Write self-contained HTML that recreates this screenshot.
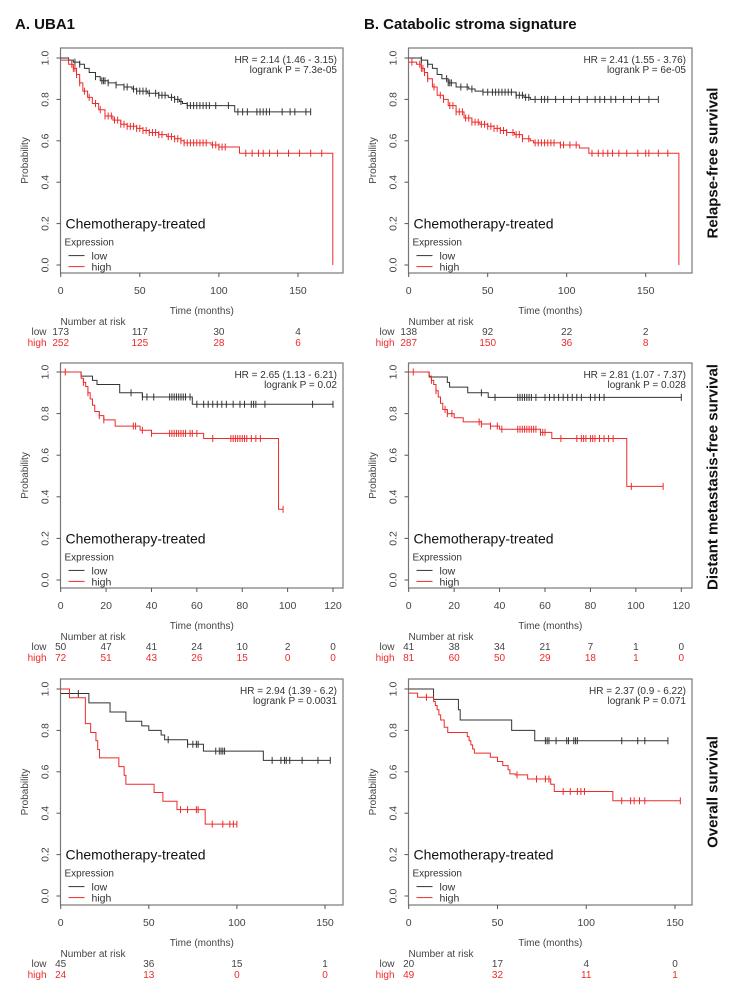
<!DOCTYPE html>
<html><head><meta charset="utf-8">
<style>
html,body{margin:0;padding:0;background:#fff;}
svg{display:block;font-family:"Liberation Sans",sans-serif;}
</style></head>
<body>
<svg id="fig" width="733" height="1003" viewBox="0 0 733 1003"></svg>
<script>
// ---------- data: A1 UBA1 relapse-free ----------
const a1Ticks = [0, 50, 100, 150];
const a1LowT = [0, 5, 8, 12, 15, 18, 22, 25, 30, 35, 40, 45, 48, 55, 62, 68, 72, 75, 77, 80, 110];
const a1LowS = [1.0, 0.99, 0.98, 0.97, 0.95, 0.93, 0.91, 0.89, 0.88, 0.87, 0.86, 0.85, 0.84, 0.83, 0.82, 0.81, 0.80, 0.79, 0.78, 0.77, 0.74];
const a1LowEnd = 158;
const a1LowCens = [9, 12, 22, 26, 27, 28, 30, 35, 40, 42, 46, 48, 50, 52, 54, 56, 60, 62, 64, 66, 70, 72, 74, 76, 80, 82, 84, 86, 88, 90, 92, 94, 98, 106, 112, 115, 118, 124, 126, 128, 130, 132, 140, 145, 148, 155, 158];
const a1HighT = [0, 5, 8, 10, 12, 14, 17, 20, 24, 28, 33, 38, 42, 48, 52, 56, 62, 67, 72, 76, 78, 95, 100, 113, 172];
const a1HighS = [0.99, 0.97, 0.95, 0.92, 0.88, 0.84, 0.81, 0.78, 0.75, 0.72, 0.70, 0.68, 0.67, 0.66, 0.65, 0.64, 0.63, 0.62, 0.61, 0.60, 0.59, 0.58, 0.57, 0.54, 0.0];
const a1HighEnd = 172;
const a1HighCens = [7, 8, 9, 10, 12, 15, 18, 22, 25, 28, 30, 32, 34, 36, 38, 40, 42, 44, 46, 48, 50, 52, 54, 56, 58, 60, 62, 64, 68, 70, 72, 74, 76, 78, 80, 82, 84, 86, 88, 90, 92, 96, 98, 100, 102, 104, 117, 121, 125, 128, 132, 137, 144, 151, 158, 165];
const a1RiskLow = [173, 117, 30, 4];
const a1RiskHigh = [252, 125, 28, 6];
// ---------- A2 UBA1 DMFS ----------
const a2Ticks = [0, 20, 40, 60, 80, 100, 120];
const a2LowT = [0, 9, 14, 16, 26, 36, 58];
const a2LowS = [1.0, 0.98, 0.96, 0.94, 0.90, 0.88, 0.845];
const a2LowEnd = 120;
const a2LowCens = [31, 36, 38, 41, 48, 49, 50, 51, 52, 53, 54, 55, 57, 60, 63, 65, 67, 69, 71, 73, 76, 79, 81, 84, 85, 86, 90, 111, 120];
const a2HighT = [0, 9, 10, 11, 12, 13, 14, 15, 17, 19, 24, 35, 40, 63, 96];
const a2HighS = [1.0, 0.97, 0.95, 0.93, 0.90, 0.87, 0.84, 0.81, 0.79, 0.77, 0.74, 0.72, 0.705, 0.68, 0.34];
const a2HighEnd = 98;
const a2HighCens = [2, 10, 12, 17, 19, 32, 33, 36, 40, 48, 49, 50, 51, 52, 53, 54, 55, 57, 58, 60, 67, 75, 76, 77, 78, 79, 80, 81, 82, 84, 86, 88, 98];
const a2RiskLow = [50, 47, 41, 24, 10, 2, 0];
const a2RiskHigh = [72, 51, 43, 26, 15, 0, 0];
// ---------- A3 UBA1 OS ----------
const a3Ticks = [0, 50, 100, 150];
const a3LowT = [0, 16, 28, 37, 46, 50, 57, 59, 72, 81, 115];
const a3LowS = [0.978, 0.933, 0.889, 0.844, 0.822, 0.80, 0.778, 0.755, 0.733, 0.70, 0.655];
const a3LowEnd = 153;
const a3LowCens = [10, 61, 72, 75, 77, 78, 88, 90, 91, 92, 93, 120, 125, 127, 128, 130, 137, 146, 153];
const a3HighT = [0, 5, 14, 17, 20, 21, 22, 33, 36, 37, 53, 58, 66, 82];
const a3HighS = [1.0, 0.958, 0.833, 0.79, 0.75, 0.708, 0.667, 0.625, 0.583, 0.54, 0.50, 0.458, 0.417, 0.347];
const a3HighEnd = 100;
const a3HighCens = [68, 72, 77, 78, 86, 92, 96, 98, 100];
const a3RiskLow = [45, 36, 15, 1];
const a3RiskHigh = [24, 13, 0, 0];
// ---------- B1 catabolic RFS ----------
const b1Ticks = [0, 50, 100, 150];
const b1LowT = [0, 8, 12, 15, 18, 21, 25, 30, 38, 42, 47, 68, 73, 77];
const b1LowS = [1.0, 0.99, 0.97, 0.95, 0.92, 0.90, 0.88, 0.86, 0.85, 0.84, 0.835, 0.82, 0.81, 0.80];
const b1LowEnd = 158;
const b1LowCens = [8, 12, 24, 25, 26, 27, 33, 37, 40, 47, 50, 53, 55, 57, 59, 61, 63, 65, 68, 70, 72, 74, 76, 80, 84, 86, 88, 93, 98, 103, 108, 113, 118, 121, 124, 128, 131, 136, 141, 146, 152, 158];
const b1HighT = [0, 5, 8, 10, 12, 15, 18, 22, 25, 30, 35, 40, 45, 50, 54, 58, 62, 67, 72, 77, 79, 96, 108, 114, 171];
const b1HighS = [0.98, 0.97, 0.95, 0.93, 0.90, 0.86, 0.82, 0.80, 0.77, 0.74, 0.71, 0.69, 0.68, 0.67, 0.66, 0.65, 0.64, 0.63, 0.61, 0.60, 0.59, 0.58, 0.565, 0.54, 0.0];
const b1HighEnd = 171;
const b1HighCens = [2, 7, 8, 9, 10, 12, 16, 20, 22, 26, 28, 30, 32, 34, 36, 38, 40, 42, 44, 46, 48, 50, 52, 54, 56, 58, 60, 62, 66, 68, 70, 72, 76, 80, 82, 84, 86, 88, 90, 92, 96, 98, 102, 106, 116, 120, 123, 126, 129, 133, 138, 145, 150, 152, 158, 164];
const b1RiskLow = [138, 92, 22, 2];
const b1RiskHigh = [287, 150, 36, 8];
// ---------- B2 catabolic DMFS ----------
const b2Ticks = [0, 20, 40, 60, 80, 100, 120];
const b2LowT = [0, 9, 17, 18, 26, 35];
const b2LowS = [1.0, 0.976, 0.95, 0.927, 0.90, 0.878];
const b2LowEnd = 120;
const b2LowCens = [32, 38, 48, 49, 50, 51, 52, 53, 54, 56, 60, 62, 64, 66, 68, 70, 72, 74, 76, 80, 82, 84, 86, 120];
const b2HighT = [0, 9, 10, 11, 12, 13, 14, 15, 17, 20, 24, 32, 36, 40, 58, 63, 96];
const b2HighS = [1.0, 0.98, 0.96, 0.94, 0.91, 0.88, 0.85, 0.82, 0.80, 0.78, 0.76, 0.75, 0.74, 0.725, 0.71, 0.68, 0.45];
const b2HighEnd = 112;
const b2HighCens = [2, 10, 12, 16, 17, 19, 31, 32, 36, 39, 41, 48, 49, 50, 51, 52, 53, 54, 55, 56, 58, 59, 60, 67, 74, 76, 77, 78, 80, 81, 82, 84, 86, 88, 90, 98, 112];
const b2RiskLow = [41, 38, 34, 21, 7, 1, 0];
const b2RiskHigh = [81, 60, 50, 29, 18, 1, 0];
// ---------- B3 catabolic OS ----------
const b3Ticks = [0, 50, 100, 150];
const b3LowT = [0, 14, 28, 29, 58, 71];
const b3LowS = [1.0, 0.95, 0.90, 0.85, 0.80, 0.75];
const b3LowEnd = 146;
const b3LowCens = [77, 78, 79, 83, 89, 90, 93, 94, 95, 120, 129, 133, 146];
const b3HighT = [0, 5, 14, 15, 16, 17, 18, 20, 22, 33, 34, 35, 36, 37, 46, 50, 53, 56, 57, 60, 67, 80, 82, 115];
const b3HighS = [0.98, 0.96, 0.94, 0.92, 0.90, 0.875, 0.85, 0.815, 0.79, 0.77, 0.75, 0.73, 0.71, 0.69, 0.67, 0.65, 0.63, 0.61, 0.59, 0.585, 0.565, 0.54, 0.505, 0.46];
const b3HighEnd = 153;
const b3HighCens = [10, 61, 72, 77, 79, 87, 91, 95, 97, 99, 120, 125, 127, 130, 133, 153];
const b3RiskLow = [20, 17, 4, 0];
const b3RiskHigh = [49, 32, 11, 1];

const hrText = [["HR = 2.14 (1.46 - 3.15)", "logrank P = 7.3e-05"], ["HR = 2.65 (1.13 - 6.21)", "logrank P = 0.02"], ["HR = 2.94 (1.39 - 6.2)", "logrank P = 0.0031"],
  ["HR = 2.41 (1.55 - 3.76)", "logrank P = 6e-05"], ["HR = 2.81 (1.07 - 7.37)", "logrank P = 0.028"], ["HR = 2.37 (0.9 - 6.22)", "logrank P = 0.071"]];

const NS = "http://www.w3.org/2000/svg";
const svg = document.getElementById("fig");
const BLACK = "#333", RED = "#ee2a2a";
function mk(tag, attrs, parent, text) {
  const e = document.createElementNS(NS, tag);
  for (const k in attrs) e.setAttribute(k, attrs[k]);
  if (text !== undefined) e.textContent = text;
  (parent || svg).appendChild(e);
  return e;
}
function stepAt(T, S, t) { let s = S[0]; for (let i = 0; i < T.length; i++) { if (T[i] <= t) s = S[i]; } return s; }

function panel(cfg) {
  const g = mk("g", {});
  
  
  const X = t => cfg.x0 + (t / cfg.tMax) * (cfg.xTmax - cfg.x0);
  const Y = s => cfg.y0 + s * (cfg.y1 - cfg.y0);
  const box = mk("rect", {x: cfg.bx, y: cfg.by, width: cfg.bw, height: cfg.bh, fill: "none", stroke: "#777", "stroke-width": 1.2}, g);
  
  
  [0, 0.2, 0.4, 0.6, 0.8, 1.0].forEach(v => {
    const tk = mk("line", {x1: cfg.bx - 4, x2: cfg.bx, y1: Y(v), y2: Y(v), stroke: "#555"}, g);
    
    
    const lb = mk("text", {x: cfg.bx - 15, y: Y(v), "font-size": 10.5, fill: "#444", "text-anchor": "middle", transform: `rotate(-90 ${cfg.bx - 15} ${Y(v)})`, "dominant-baseline": "central"}, g, v.toFixed(1));
    
    
  });
  const yt = mk("text", {x: cfg.bx - 35, y: (cfg.by + cfg.by + cfg.bh) / 2, "font-size": 10, fill: "#444", "text-anchor": "middle", transform: `rotate(-90 ${cfg.bx - 35} ${(cfg.by + cfg.by + cfg.bh) / 2})`, "dominant-baseline": "central"}, g, "Probability");
  
  
  const bb = cfg.by + cfg.bh;
  cfg.ticks.forEach((t, i) => {
    const tk = mk("line", {x1: X(t), x2: X(t), y1: bb, y2: bb + 4, stroke: "#555"}, g);
    
    
    const lb = mk("text", {x: X(t), y: bb + 21, "font-size": 10.5, fill: "#444", "text-anchor": "middle"}, g, String(t));
    
    
    const rl = mk("text", {x: X(t), y: bb + 62, "font-size": 10, fill: "#444", "text-anchor": "middle"}, g, String(cfg.riskLow[i]));
    
    
    const rh = mk("text", {x: X(t), y: bb + 73, "font-size": 10, fill: RED, "text-anchor": "middle"}, g, String(cfg.riskHigh[i]));
    
    
  });
  const xt = mk("text", {x: (cfg.bx + cfg.bx + cfg.bw) / 2, y: bb + 41, "font-size": 10, fill: "#444", "text-anchor": "middle"}, g, "Time (months)");
  
  
  const nr = mk("text", {x: cfg.bx, y: bb + 52, "font-size": 10, fill: "#444"}, g, "Number at risk");
  
  
  const rlab = mk("text", {x: cfg.bx - 14, y: bb + 62, "font-size": 10, fill: "#444", "text-anchor": "end"}, g, "low");
  
  
  const rhab = mk("text", {x: cfg.bx - 14, y: bb + 73, "font-size": 10, fill: RED, "text-anchor": "end"}, g, "high");
  
  
  [[cfg.lowT, cfg.lowS, cfg.lowEnd, cfg.lowCens, BLACK, 'low-curve'], [cfg.highT, cfg.highS, cfg.highEnd, cfg.highCens, RED, 'high-curve']].forEach(([T, S, end, C, col, nm]) => {
    let d = `M${X(0)},${Y(S[0])}`;
    for (let i = 1; i < T.length; i++) d += ` H${X(T[i])} V${Y(S[i])}`;
    d += ` H${X(end)}`;
    const p = mk("path", {d: d, fill: "none", stroke: col, "stroke-width": 1}, g);
    
    
    C.forEach(t => {
      const y = Y(stepAt(T, S, t));
      const c = mk("line", {x1: X(t), x2: X(t), y1: y - 3.5, y2: y + 3.5, stroke: col, "stroke-width": 1}, g);
      
      
    });
  });
  const rx = cfg.bx + cfg.bw - 6;
  const h1 = mk("text", {x: rx, y: cfg.by + 15, "font-size": 10, fill: "#333", "text-anchor": "end"}, g, cfg.hr[0]);
  
  
  const h2 = mk("text", {x: rx, y: cfg.by + 25, "font-size": 10, fill: "#333", "text-anchor": "end"}, g, cfg.hr[1]);
  
  
  const ch = mk("text", {x: cfg.bx + 5, y: Y(0.2) + 5, "font-size": 14, fill: "#111"}, g, "Chemotherapy-treated");
  
  
  const ex = mk("text", {x: cfg.bx + 4, y: Y(0.2) + 22, "font-size": 10, fill: "#333"}, g, "Expression");
  
  
  [["low", BLACK, 0], ["high", RED, 1]].forEach(([lab, col, k]) => {
    const yy = Y(0.2) + 32 + k * 11;
    const ln = mk("line", {x1: cfg.bx + 8, x2: cfg.bx + 24, y1: yy, y2: yy, stroke: col}, g);
    
    
    const tx = mk("text", {x: cfg.bx + 31, y: yy + 4, "font-size": 10.5, fill: "#333"}, g, lab);
    
    
  });
}

const rows = [
  {by: 48, bh: 225, y1: 58, y0: 265},
  {by: 363, bh: 225, y1: 372, y0: 580},
  {by: 679, bh: 226, y1: 689, y0: 896}
];
const cols = [{bx: 60.5, bw: 282.5}, {bx: 408.5, bw: 283.5}];
const specs = [
  {c: 0, r: 0, name: 'panel-a-rfs', tMax: 150, xT: 298, ticks: a1Ticks, lowT: a1LowT, lowS: a1LowS, lowEnd: a1LowEnd, lowCens: a1LowCens, highT: a1HighT, highS: a1HighS, highEnd: a1HighEnd, highCens: a1HighCens, riskLow: a1RiskLow, riskHigh: a1RiskHigh, hr: hrText[0]},
  {c: 0, r: 1, name: 'panel-a-dmfs', tMax: 120, xT: 333, ticks: a2Ticks, lowT: a2LowT, lowS: a2LowS, lowEnd: a2LowEnd, lowCens: a2LowCens, highT: a2HighT, highS: a2HighS, highEnd: a2HighEnd, highCens: a2HighCens, riskLow: a2RiskLow, riskHigh: a2RiskHigh, hr: hrText[1]},
  {c: 0, r: 2, name: 'panel-a-os', tMax: 150, xT: 325, ticks: a3Ticks, lowT: a3LowT, lowS: a3LowS, lowEnd: a3LowEnd, lowCens: a3LowCens, highT: a3HighT, highS: a3HighS, highEnd: a3HighEnd, highCens: a3HighCens, riskLow: a3RiskLow, riskHigh: a3RiskHigh, hr: hrText[2]},
  {c: 1, r: 0, name: 'panel-b-rfs', tMax: 150, xT: 645.7, ticks: b1Ticks, lowT: b1LowT, lowS: b1LowS, lowEnd: b1LowEnd, lowCens: b1LowCens, highT: b1HighT, highS: b1HighS, highEnd: b1HighEnd, highCens: b1HighCens, riskLow: b1RiskLow, riskHigh: b1RiskHigh, hr: hrText[3]},
  {c: 1, r: 1, name: 'panel-b-dmfs', tMax: 120, xT: 681.3, ticks: b2Ticks, lowT: b2LowT, lowS: b2LowS, lowEnd: b2LowEnd, lowCens: b2LowCens, highT: b2HighT, highS: b2HighS, highEnd: b2HighEnd, highCens: b2HighCens, riskLow: b2RiskLow, riskHigh: b2RiskHigh, hr: hrText[4]},
  {c: 1, r: 2, name: 'panel-b-os', tMax: 150, xT: 675, ticks: b3Ticks, lowT: b3LowT, lowS: b3LowS, lowEnd: b3LowEnd, lowCens: b3LowCens, highT: b3HighT, highS: b3HighS, highEnd: b3HighEnd, highCens: b3HighCens, riskLow: b3RiskLow, riskHigh: b3RiskHigh, hr: hrText[5]}
];
specs.forEach(s => {
  const col = cols[s.c], row = rows[s.r];
  panel(Object.assign({}, s, {bx: col.bx, bw: col.bw, by: row.by, bh: row.bh, y0: row.y0, y1: row.y1, x0: col.bx + 0.2, xTmax: s.xT}));
});

const ta = mk("text", {x: 15, y: 29, "font-size": 15, "font-weight": "bold", fill: "#111"}, svg, "A. UBA1");


const tb = mk("text", {x: 364, y: 29, "font-size": 15, "font-weight": "bold", fill: "#111"}, svg, "B. Catabolic stroma signature");


[["Relapse-free survival", 163, 'row-label-rfs'], ["Distant metastasis-free survival", 477, 'row-label-dmfs'], ["Overall survival", 792, 'row-label-os']].forEach(([t, cy, nm]) => {
  const e = mk("text", {x: 713, y: cy, "font-size": 15, "font-weight": "bold", fill: "#111", "text-anchor": "middle", "dominant-baseline": "central", transform: `rotate(-90 713 ${cy})`}, svg, t);
  
  
});
</script>
</body></html>
